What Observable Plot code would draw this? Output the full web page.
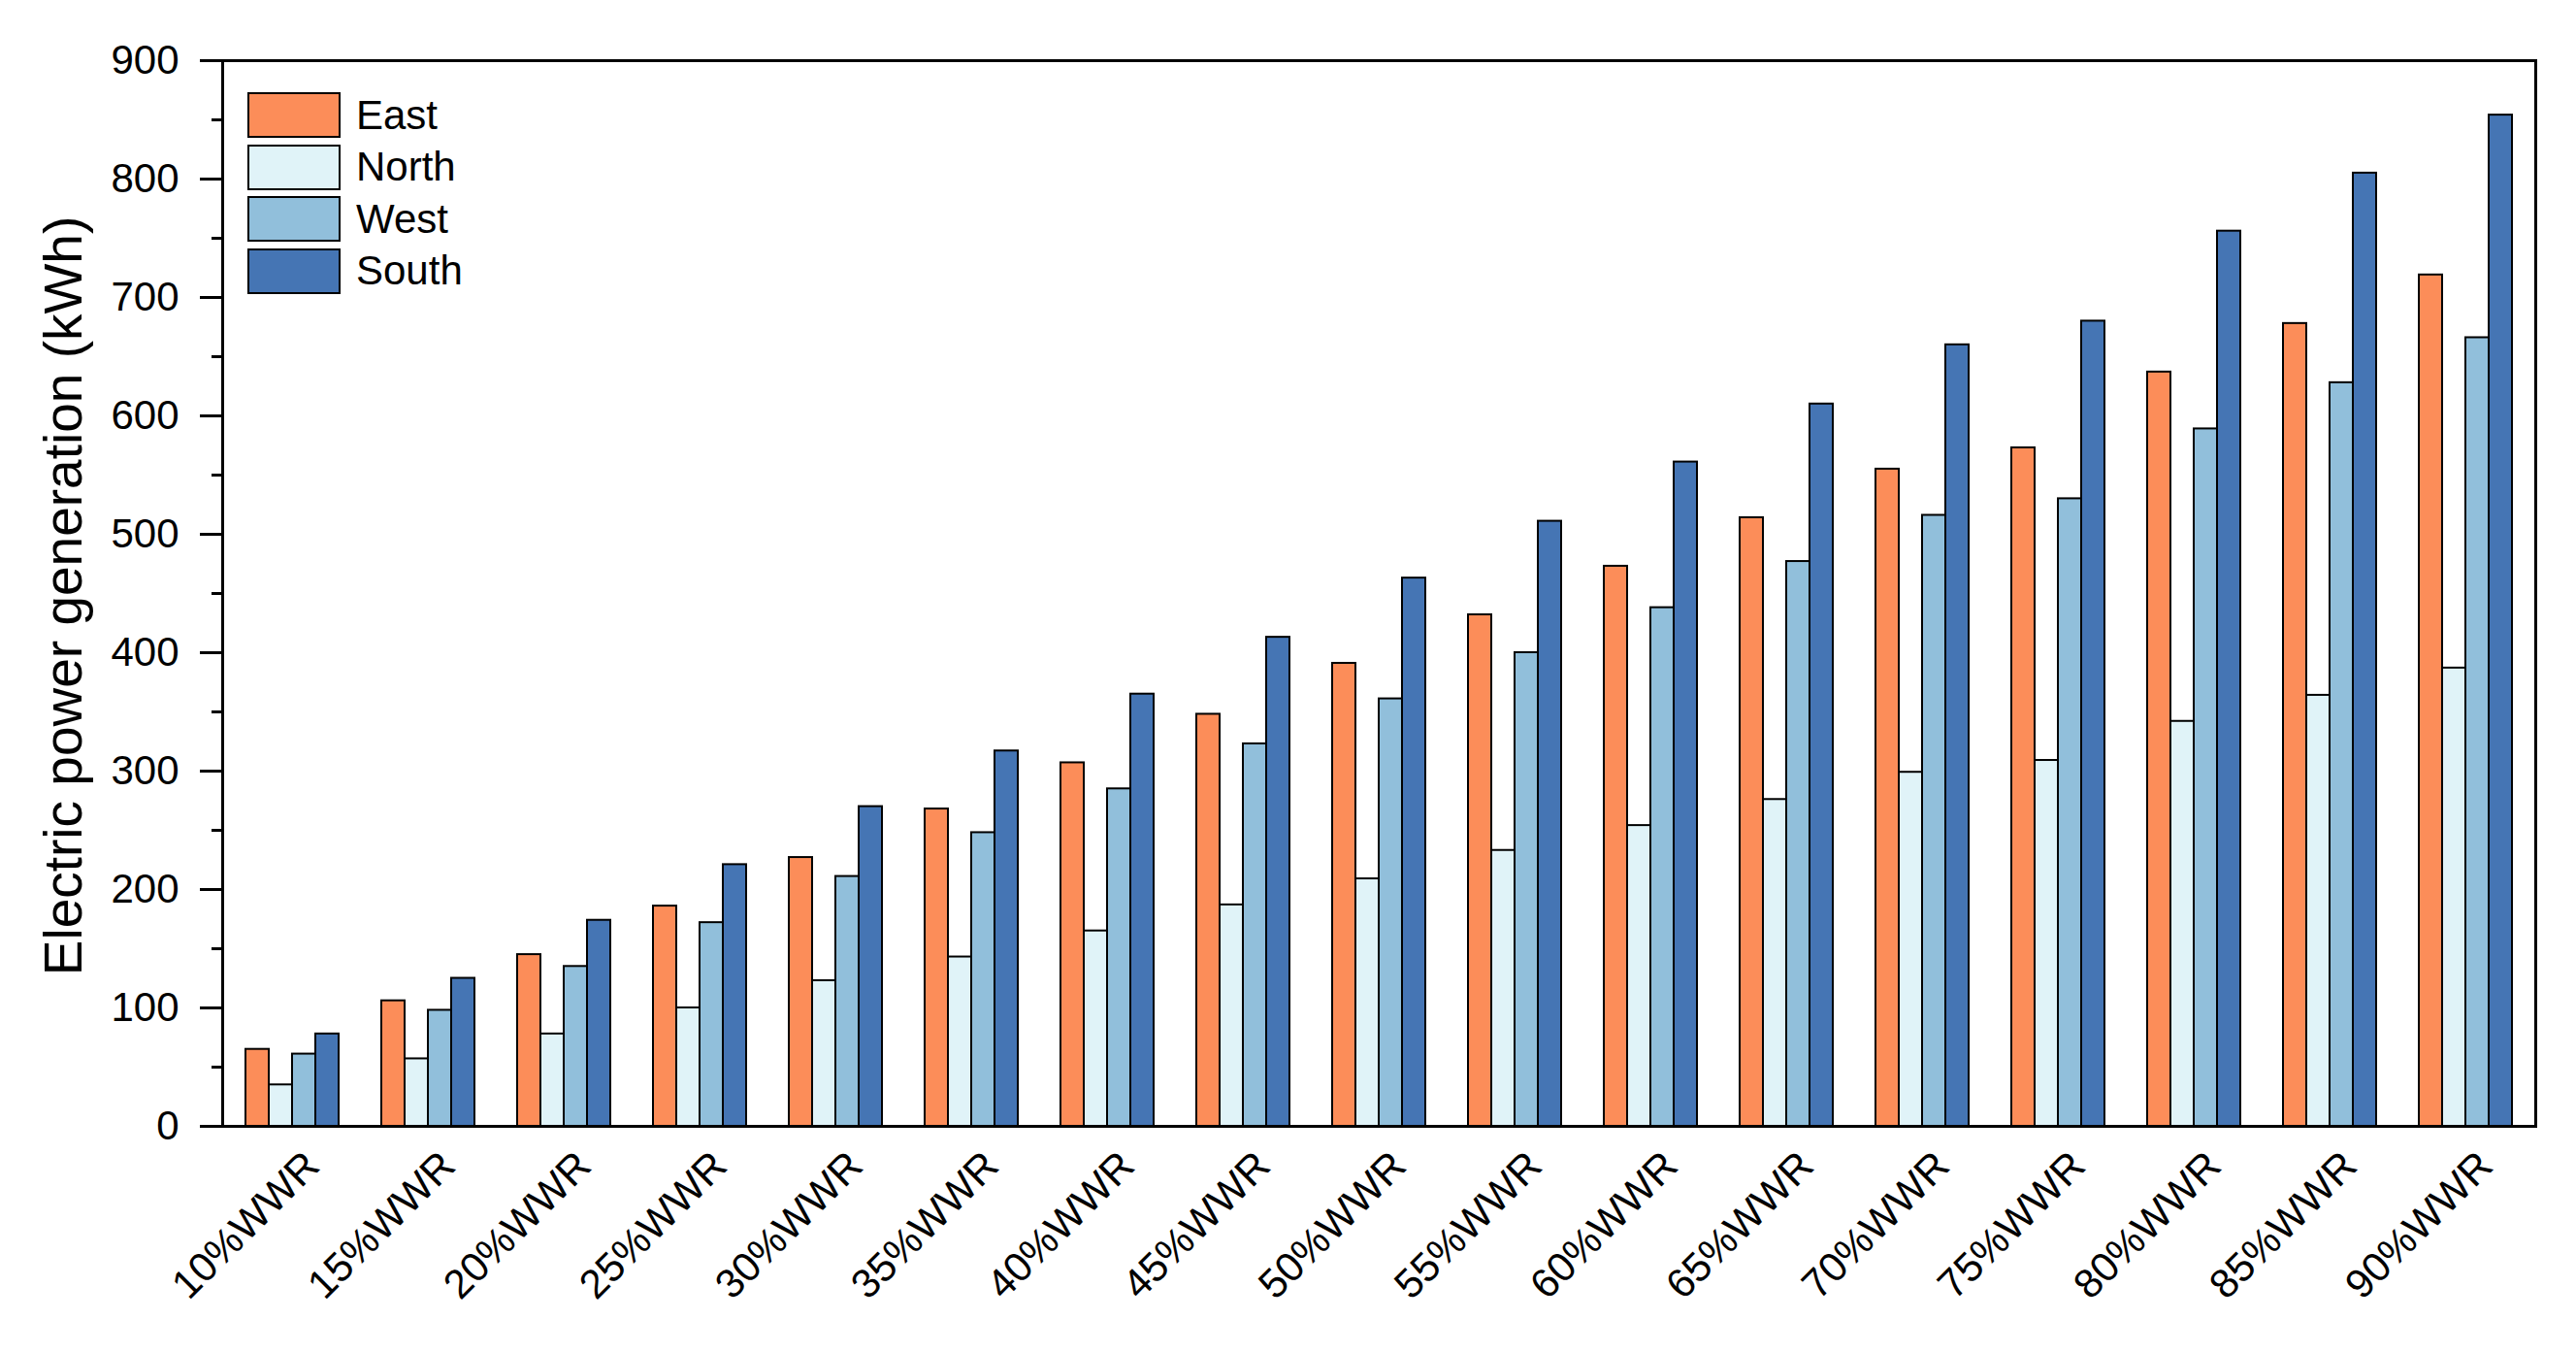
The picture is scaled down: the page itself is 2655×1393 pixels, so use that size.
<!DOCTYPE html>
<html>
<head>
<meta charset="utf-8">
<script src="https://cdn.jsdelivr.net/npm/d3@7"></script>
<script src="https://cdn.jsdelivr.net/npm/@observablehq/plot@0.6"></script>
<style>
  html, body { margin: 0; padding: 0; background: #fff; }
  #wrap { position: relative; width: 2655px; height: 1393px; font-family: "Liberation Sans", Arial, sans-serif; }
  #wrap svg { position: absolute; left: 0; top: 0; }
  .ytitle { position: absolute; left: 65px; top: 614px; transform: translate(-50%, -50%) rotate(-90deg); white-space: nowrap; font-size: 55px; line-height: 1; color: #000; }
  .legend { position: absolute; left: 255px; top: 92px; }
  .legend .row { display: flex; align-items: center; height: 53.5px; }
  .legend .sw { width: 92px; height: 43px; border: 2px solid #000; margin-right: 16px; }
  .legend .lab { font-size: 42px; line-height: 1; color: #000; }
</style>
</head>
<body>
<div id="wrap"></div>
<script>
const categories = ["10%WWR","15%WWR","20%WWR","25%WWR","30%WWR","35%WWR","40%WWR","45%WWR","50%WWR","55%WWR","60%WWR","65%WWR","70%WWR","75%WWR","80%WWR","85%WWR","90%WWR"];
const directions = ["East","North","West","South"];
const colors = ["#FC8D59","#E0F3F8","#91BFDB","#4575B4"];
const east  = [65,106,145,186,227,268,307,348,391,432,473,514,555,573,637,678,719];
const north = [35,57,78,100,123,143,165,187,209,233,254,276,299,309,342,364,387];
const west  = [61,98,135,172,211,248,285,323,361,400,438,477,516,530,589,628,666];
const south = [78,125,174,221,270,317,365,413,463,511,561,610,660,680,756,805,854];
const majorTicks = [0,100,200,300,400,500,600,700,800,900];
const minorTicks = [50,150,250,350,450,550,650,750,850];
const yTitle = "Electric power generation (kWh)";

const series = [east, north, west, south];
const data = [];
categories.forEach((c, i) => {
  directions.forEach((d, j) => data.push({wwr: c, dir: d, value: series[j][i]}));
});

const font = "Liberation Sans, Arial, sans-serif";
const outer = 23; // gap between the frame and the first / last group
const chart = Plot.plot({
  width: 2655,
  height: 1393,
  marginLeft: 223 + outer,
  marginRight: 37 + outer,
  marginTop: 62,
  marginBottom: 233,
  style: {fontFamily: font, background: "#fff", color: "#000"},
  fx: {domain: categories, paddingInner: 0.3, paddingOuter: 0, label: null},
  x: {domain: directions, padding: 0, axis: null},
  y: {domain: [0, 900], axis: null},
  color: {domain: directions, range: colors},
  marks: [
    Plot.barY(data, {fx: "wwr", x: "dir", y: "value", fill: "dir", stroke: "#000", strokeWidth: 2, inset: 0}),
    Plot.frame({stroke: "#000", strokeWidth: 3, facet: "super", insetLeft: -outer, insetRight: -outer}),
    Plot.axisY({ticks: majorTicks, tickSize: 23, tickPadding: 22, fontSize: 42, strokeWidth: 3, dx: -outer, label: null}),
    Plot.axisY({ticks: minorTicks, tickSize: 11, tickFormat: () => "", strokeWidth: 3, dx: -outer, label: null}),
    Plot.axisFx({anchor: "bottom", tickRotate: -45, tickSize: 0, tickPadding: 43, dx: 30, fontSize: 42, textAnchor: "end", lineAnchor: "bottom", label: null})
  ]
});

const wrap = document.getElementById("wrap");
wrap.appendChild(chart);

const t = document.createElement("div");
t.className = "ytitle";
t.textContent = yTitle;
wrap.appendChild(t);

const lg = document.createElement("div");
lg.className = "legend";
directions.forEach((d, i) => {
  const row = document.createElement("div");
  row.className = "row";
  const sw = document.createElement("div");
  sw.className = "sw";
  sw.style.background = colors[i];
  const lab = document.createElement("div");
  lab.className = "lab";
  lab.textContent = d;
  row.appendChild(sw);
  row.appendChild(lab);
  lg.appendChild(row);
});
wrap.appendChild(lg);
</script>
</body>
</html>
